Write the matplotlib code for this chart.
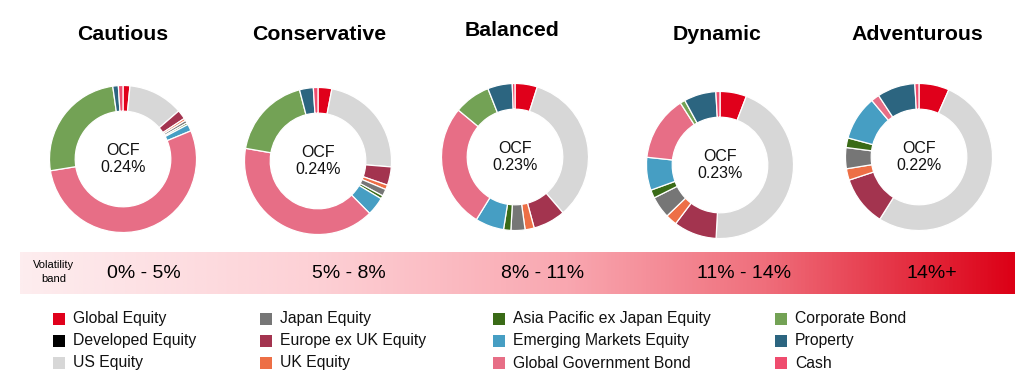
import matplotlib
matplotlib.use("Agg")
import matplotlib.pyplot as plt
import numpy as np
from matplotlib.colors import LinearSegmentedColormap
from matplotlib.patches import Rectangle

plt.rcParams['font.family'] = ['Liberation Sans', 'DejaVu Sans']

# ── data ────────────────────────────────────────────
portfolios = ['Cautious', 'Conservative', 'Balanced', 'Dynamic', 'Adventurous']
ocf = ['0.24%', '0.24%', '0.23%', '0.23%', '0.22%']

# slice order (clockwise from 12 o'clock)
assets = ['Global Equity', 'Developed Equity', 'US Equity', 'Europe ex UK Equity',
          'UK Equity', 'Japan Equity', 'Asia Pacific ex Japan Equity',
          'Emerging Markets Equity', 'Global Government Bond', 'Corporate Bond',
          'Property', 'Cash']
cautious     = [1.5, 0, 12.0, 2.0, 0.5, 0.6, 0.4, 1.5, 53.0, 25.0, 1.2, 1.0]
conservative = [3.0, 0, 23.0, 4.0, 1.0, 1.5, 0.7, 4.0, 39.7, 18.0, 3.0, 1.0]
balanced     = [4.9, 0, 33.8, 7.1, 2.0, 3.1, 1.6, 6.3, 27.2, 8.0, 5.4, 0.6]
dynamic      = [5.8, 0, 44.8, 9.4, 2.5, 4.8, 1.8, 7.2, 14.2, 1.1, 7.0, 0.9]
adventurous  = [6.6, 0, 52.0, 10.9, 2.5, 4.6, 2.1, 9.7, 1.8, 0.0, 8.3, 0.9]
allocations = [cautious, conservative, balanced, dynamic, adventurous]

colors = {
    'Global Equity': '#E0001B',
    'Developed Equity': '#000000',
    'US Equity': '#D7D7D7',
    'Japan Equity': '#767676',
    'Europe ex UK Equity': '#A3344F',
    'UK Equity': '#ED6F46',
    'Asia Pacific ex Japan Equity': '#3A6B17',
    'Emerging Markets Equity': '#469EC3',
    'Global Government Bond': '#E76E86',
    'Corporate Bond': '#73A255',
    'Property': '#2C6580',
    'Cash': '#EF4C6E',
}

bands = ['0% - 5%', '5% - 8%', '8% - 11%', '11% - 14%', '14%+']

legend_cols = [
    ['Global Equity', 'Developed Equity', 'US Equity'],
    ['Japan Equity', 'Europe ex UK Equity', 'UK Equity'],
    ['Asia Pacific ex Japan Equity', 'Emerging Markets Equity', 'Global Government Bond'],
    ['Corporate Bond', 'Property', 'Cash'],
]

# ── layout (pixels) ─────────────────────────────────
W, H = 1022, 386
centers = [(123, 159), (318, 161), (515, 157), (720, 165), (919, 157)]
title_pos = [(123, 35), (319, 35), (512, 31), (717, 35), (917, 35)]
R = 75
band_x = [144, 349, 543, 744, 932]
legend_x = [53, 260, 493, 775]
legend_y = [319, 341, 363]

fig = plt.figure(figsize=(W / 100, H / 100), dpi=100)
bg = fig.add_axes([0, 0, 1, 1])
bg.set_xlim(0, W)
bg.set_ylim(H, 0)
bg.axis('off')

for name, vals, (cx, cy), (tx, ty), oc in zip(portfolios, allocations, centers, title_pos, ocf):
    ax = fig.add_axes([(cx - R) / W, 1 - (cy + R) / H, 2 * R / W, 2 * R / H])
    v = [x for x in vals if x > 0]
    c = [colors[a] for a, x in zip(assets, vals) if x > 0]
    ax.pie(v, colors=c, startangle=90, counterclock=False,
           wedgeprops=dict(width=0.35, edgecolor='white', linewidth=0.9))
    ax.set_xlim(-1.02, 1.02)
    ax.set_ylim(-1.02, 1.02)
    ax.text(0, 0, f'OCF\n{oc}', ha='center', va='center', fontsize=11.5,
            linespacing=1.1, color='#111111')
    bg.text(tx, ty, name, ha='center', va='center', fontsize=15.3, fontweight='bold')

# volatility band gradient
cmap = LinearSegmentedColormap.from_list('band', [
    (0.0, '#FDEDEF'), (0.3, '#FDD0D5'), (0.55, '#F9A7B0'),
    (0.75, '#EF6E7B'), (1.0, '#DC0016')])
grad = np.linspace(0, 1, 512).reshape(1, -1)
bg.imshow(grad, cmap=cmap, aspect='auto', extent=[20, 1015, 294, 252], zorder=0)
bg.set_xlim(0, W)
bg.set_ylim(H, 0)
bg.text(54, 272, 'Volatility\nband', ha='center', va='center', fontsize=8,
        linespacing=1.4)
for lab, x in zip(bands, band_x):
    bg.text(x, 273, lab, ha='center', va='center', fontsize=14)

# legend
for col, lx in zip(legend_cols, legend_x):
    for item, ly in zip(col, legend_y):
        bg.add_patch(Rectangle((lx, ly - 6), 12, 12, facecolor=colors[item], edgecolor='none'))
        bg.text(lx + 20, ly, item, ha='left', va='center', fontsize=11.3, color='#111111')

fig.savefig('out.png', dpi=100)
